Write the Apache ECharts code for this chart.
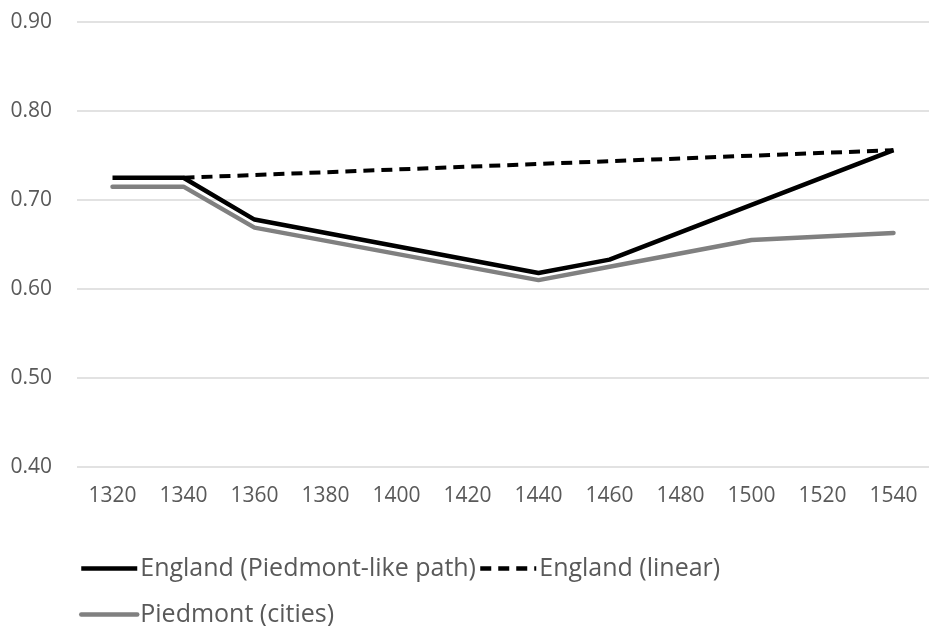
<!DOCTYPE html>
<html>
<head>
<meta charset="utf-8">
<script src="https://cdn.jsdelivr.net/npm/echarts@6/dist/echarts.min.js"></script>
<style>
  html, body { margin: 0; padding: 0; background: #fff; }
  #chart { width: 929px; height: 626px; }
</style>
</head>
<body>
<div id="chart"></div>
<script>
// 数据
const years = ['1320', '1340', '1360', '1380', '1400', '1420', '1440', '1460', '1480', '1500', '1520', '1540'];
const englandPath = [0.725, 0.725, 0.678, null, null, null, 0.618, 0.633, null, null, null, 0.756];
const englandLinear = [null, 0.725, null, null, null, null, null, null, null, null, null, 0.756];
const piedmont = [0.715, 0.715, 0.669, null, null, null, 0.610, 0.625, null, 0.655, null, 0.663];

const chart = echarts.init(document.getElementById('chart'));

const textColor = '#595959';
const font = 'Open Sans';

const legendBase = {
    left: 74,
    itemWidth: 56, itemHeight: 14, itemGap: 2,
    itemStyle: { opacity: 0 },
    lineStyle: { width: 4.5 },
    textStyle: { color: textColor, fontSize: 25, fontFamily: font, padding: [0, 0, 0, -2] }
};

const option = {
    animation: false,
    grid: { left: 77, top: 22, width: 864, height: 445 },
    legend: [
        Object.assign({}, legendBase, {
            data: ['England (Piedmont-like path)', 'England (linear)'],
            top: 551
        }),
        Object.assign({}, legendBase, {
            data: ['Piedmont (cities)'],
            top: 597
        })
    ],
    xAxis: {
        type: 'category',
        data: years,
        boundaryGap: true,
        axisLine: { show: false },
        axisTick: { show: false },
        axisLabel: { color: textColor, fontSize: 21, fontFamily: font, margin: 19 }
    },
    yAxis: {
        type: 'value',
        min: 0.4, max: 0.9, interval: 0.1,
        axisLabel: {
            color: textColor, fontSize: 21, fontFamily: font, margin: 25,
            formatter: function (v) { return v.toFixed(2); }
        },
        splitLine: { lineStyle: { color: '#d9d9d9', width: 1.5 } }
    },
    series: [
        {
            name: 'England (Piedmont-like path)',
            type: 'line',
            data: englandPath,
            connectNulls: true,
            symbol: 'none',
            z: 4,
            lineStyle: { color: '#000', width: 4.5 },
            itemStyle: { color: '#000' }
        },
        {
            name: 'England (linear)',
            type: 'line',
            data: englandLinear,
            connectNulls: true,
            symbol: 'none',
            z: 2,
            lineStyle: { color: '#000', width: 4, type: [11, 7] },
            itemStyle: { color: '#000' }
        },
        {
            name: 'Piedmont (cities)',
            type: 'line',
            data: piedmont,
            connectNulls: true,
            symbol: 'none',
            z: 3,
            lineStyle: { color: '#808080', width: 4.5, cap: 'round' },
            itemStyle: { color: '#808080' }
        }
    ]
};

chart.setOption(option);
</script>
</body>
</html>
